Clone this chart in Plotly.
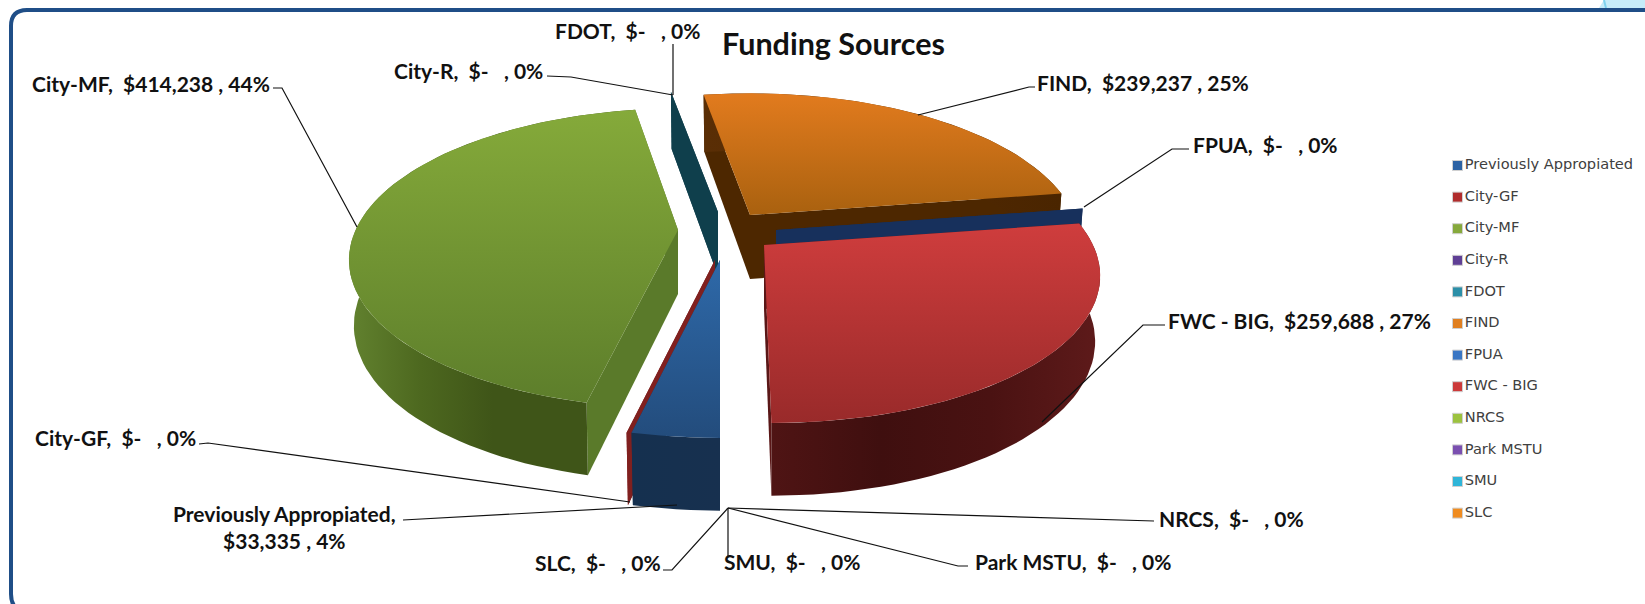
import math
import plotly.graph_objects as go

# ---------- data ----------
categories = ["Previously Appropiated", "City-GF", "City-MF", "City-R", "FDOT", "FIND",
              "FPUA", "FWC - BIG", "NRCS", "Park MSTU", "SMU", "SLC"]
funding = [33335, 0, 414238, 0, 0, 239237, 0, 259688, 0, 0, 0, 0]
legend_colors = ["#2c62a4", "#b02c2c", "#86a93c", "#5f3f95", "#2c8fa8", "#e07f20",
                 "#3a76c4", "#cc3a3a", "#9cc23f", "#7a4fb0", "#2fb5d8", "#f08c20"]
title = "Funding Sources"

# ---------- projection (view of the tilted, exploded pie) ----------
RX, RY, K, DEPTH, K2, BASE = 329, 144.5, 0.188, 64, 0.12, 0.985
FIRST_ANGLE = 180
total = sum(funding)

# explode position of each slice's tip, colours, draw order
style = {
    "FDOT": dict(tip=(718, 212), wall="#0f3f4c"),
    "FIND": dict(tip=(750, 215), sx=0.985, top=("#a9610f", "#e27b1e"), wall="#4d2700",
                 outer=("#5a2e05", "#4a2500")),
    "FPUA": dict(tip=(776, 230), sx=0.97, wall="#17305c"),
    "FWC - BIG": dict(tip=(764, 245), skew=6, top=("#992a2a", "#cf3d3d"), wall="#5a1717",
                      outer=("#4f1414", "#3f0f0f", "#4a1212", "#5e1a1a")),
    "City-MF": dict(tip=(678, 230), sx=0.98, skew=-4, top=("#5d7e2b", "#85aa3a"), wall="#5a7a2a",
                    outer=("#62822f", "#4d681f", "#3f5518", "#3f5518", "#3f5518")),
    "City-GF": dict(tip=(715, 260), wall="#80201f"),
    "Previously Appropiated": dict(tip=(720, 260), top=("#234c7c", "#2e69a9"), wall="#17304f",
                                   outer=("#15304f", "#17304f")),
}
draw_order = ["FDOT", "FIND", "FPUA", "FWC - BIG", "City-MF", "City-GF", "Previously Appropiated"]

# cumulative angles
ang = {}
a = FIRST_ANGLE
for c, v in zip(categories, funding):
    ang[c] = (a, a + v / total * 360)
    a += v / total * 360


def top_pt(s, th):
    X, Y = math.sin(math.radians(th)), math.cos(math.radians(th))
    p = 1 + K * Y
    return (s["tip"][0] + (s.get("sx", 1) * RX * X - s.get("skew", 0) * Y) / p,
            s["tip"][1] - RY * Y / p)


def base_pt(s, th):
    X, Y = math.sin(math.radians(th)), math.cos(math.radians(th))
    p = 1 + K * Y
    return (s["tip"][0] + (BASE * s.get("sx", 1) * RX * X - s.get("skew", 0) * Y) / p,
            s["tip"][1] - RY * Y / p + DEPTH / (1 + K2 * Y))


def scale(colors):
    n = len(colors) - 1
    return [[i / n, c] for i, c in enumerate(colors)]


def poly(pts, color=None, grad=None, name=""):
    xs = [p[0] for p in pts] + [pts[0][0]]
    ys = [p[1] for p in pts] + [pts[0][1]]
    kw = dict(fillgradient=grad) if grad else dict(fillcolor=color)
    return go.Scatter(x=xs, y=ys, mode="lines", fill="toself", line=dict(width=0),
                      showlegend=False, hoverinfo="text", text=name, **kw)


fig = go.Figure()
for cat in draw_order:
    s = style[cat]
    a0, a1 = ang[cat]
    tip = s["tip"]
    tip_base = (tip[0], tip[1] + DEPTH)
    n = max(2, int((a1 - a0) / 2) + 1)
    ths = [a0 + (a1 - a0) * i / (n - 1) for i in range(n)]
    # radial walls
    for th in (a0, a1):
        fig.add_trace(poly([tip, top_pt(s, th), base_pt(s, th), tip_base], s["wall"], name=cat))
    if a1 > a0:
        # outer wall
        pts = [top_pt(s, t) for t in ths] + [base_pt(s, t) for t in reversed(ths)]
        fig.add_trace(poly(pts, grad=dict(type="horizontal", colorscale=scale(s["outer"])), name=cat)
                      if "outer" in s else poly(pts, s["wall"], name=cat))
        # top face
        pts = [tip] + [top_pt(s, t) for t in ths]
        fig.add_trace(poly(pts, grad=dict(type="vertical", colorscale=scale(s["top"])), name=cat))

# ---------- legend drawn as a point list ----------
fig.add_trace(go.Scatter(
    x=[1457.5] * len(categories), y=[165.5 + 31.6 * i for i in range(len(categories))],
    mode="markers+text", text=categories, textposition="middle right",
    textfont=dict(family="DejaVu Sans", size=14.6, color="#404040"),
    marker=dict(symbol="square", size=10, color=legend_colors, line=dict(width=1, color="#d0d0d0")),
    showlegend=False, hoverinfo="text"))


# ---------- data labels ----------
def label(cat):
    v = funding[categories.index(cat)]
    pct = round(v / total * 100)
    money = f"${v:,} " if v else "$-   "
    return f"{cat},  {money}, {pct}%"


label_pos = {
    "FDOT": (627, 30), "City-R": (468, 70), "City-MF": (151, 83), "FIND": (1143, 82),
    "FPUA": (1265, 144), "FWC - BIG": (1299, 320), "NRCS": (1231, 518), "Park MSTU": (1073, 561),
    "SMU": (792, 561), "SLC": (598, 562), "City-GF": (115, 437),
}
annots = []
for cat, (x, y) in label_pos.items():
    annots.append(dict(x=x, y=y, text=label(cat), showarrow=False, xanchor="center", yanchor="middle"))
annots.append(dict(x=284, y=527, showarrow=False, xanchor="center", yanchor="middle",
                   text="Previously Appropiated,<br>" + f"${funding[0]:,} , {round(funding[0] / total * 100)}%"))
for an in annots:
    an["font"] = dict(family="Lato", size=21, color="#111111")
    an["xref"] = "x"
    an["yref"] = "y"
annots.append(dict(x=833, y=43, xref="x", yref="y", text=f"<b>{title}</b>", showarrow=False,
                   font=dict(family="Lato", size=30.5, color="#111111")))
for an in annots[:-1]:
    an["text"] = f"<b>{an['text'].replace('<br>', '</b><br><b>')}</b>"
    an["text"] = an["text"].replace("  ", "&nbsp;&nbsp;").replace("$-   ", "$-&nbsp;&nbsp;&nbsp;")

# ---------- leader lines ----------
leaders = [
    [(273, 88), (282, 88), (357, 227)],
    [(547, 76), (571, 77), (673, 95)],
    [(673, 44), (673, 95)],
    [(1035, 87), (1029, 87), (918, 115)],
    [(1189, 149), (1172, 149), (1084, 207)],
    [(1165, 325), (1143, 325), (1042, 422)],
    [(1154, 521), (728, 508)],
    [(968, 566), (958, 566), (728, 508)],
    [(728, 556), (728, 508)],
    [(663, 570), (672, 570), (728, 508)],
    [(403, 520), (677, 505)],
    [(199, 444), (208, 443), (630, 502)],
]
shapes = []
for L in leaders:
    path = "M " + " L ".join(f"{x},{y}" for x, y in L)
    shapes.append(dict(type="path", path=path, xref="x", yref="y", line=dict(color="#111111", width=1.2)))

# ---------- frame ----------
shapes.append(dict(type="path", xref="x", yref="y", fillcolor="#c6ecf9", line=dict(width=0), layer="below",
                   path="M 1599,8 L 1604,0 L 1645,0 L 1645,8 Z"))
shapes.append(dict(type="line", xref="x", yref="y", x0=1604, y0=0, x1=1606, y1=8, layer="below",
                   line=dict(color="#7fd2ee", width=2)))
shapes.append(dict(type="path", xref="x", yref="y", layer="below", line=dict(color="#1f4e87", width=4),
                   path="M 1665,10 L 27,10 Q 11,10 11,26 L 11,594 Q 11,612 29,612 L 1665,612"))

fig.update_layout(
    width=1645, height=604, margin=dict(l=0, r=0, t=0, b=0),
    paper_bgcolor="white", plot_bgcolor="white", showlegend=False,
    xaxis=dict(range=[0, 1645], visible=False, fixedrange=True),
    yaxis=dict(range=[604, 0], visible=False, fixedrange=True),
    annotations=annots, shapes=shapes,
)
fig.write_html("out.html", config=dict(displayModeBar=False),
               post_script="document.body.style.margin='0';document.body.style.overflow='hidden';")
